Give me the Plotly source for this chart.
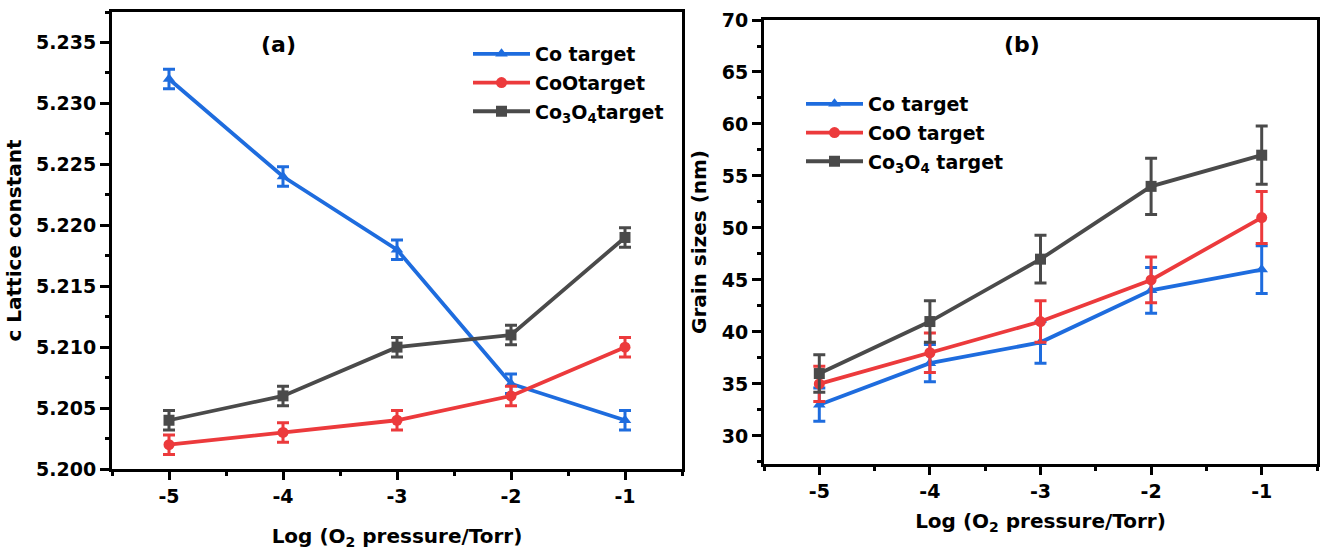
import plotly.graph_objects as go

x_log = [-5, -4, -3, -2, -1]

# Panel (a) lattice constant
a_co = [5.232, 5.224, 5.218, 5.207, 5.204]
a_coo = [5.202, 5.203, 5.204, 5.206, 5.210]
a_co3o4 = [5.204, 5.206, 5.210, 5.211, 5.219]
a_err = [0.0008, 0.0008, 0.0008, 0.0008, 0.0008]

# Panel (b) grain sizes
b_co = [33, 37, 39, 44, 46]
b_co_err = [1.6, 1.8, 2.0, 2.2, 2.3]
b_coo = [35, 38, 41, 45, 51]
b_coo_err = [1.7, 1.9, 2.0, 2.2, 2.5]
b_co3o4 = [36, 41, 47, 54, 57]
b_co3o4_err = [1.8, 2.0, 2.3, 2.7, 2.8]

names_a = ["Co target", "CoOtarget", "Co<sub>3</sub>O<sub>4</sub>target"]
names_b = ["Co target", "CoO target", "Co<sub>3</sub>O<sub>4</sub> target"]

BLUE = "rgb(30,108,222)"
RED = "rgb(236,58,60)"
GRAY = "rgb(74,74,74)"
FONT = "DejaVu Sans, Liberation Sans, sans-serif"

fig = go.Figure()

def add(x, y, err, name, color, symbol, xa, ya, legend, group):
    fig.add_trace(go.Scatter(
        x=x, y=y, name=name, mode="lines+markers",
        line=dict(color=color, width=3.8),
        marker=dict(symbol=symbol, size=11, color=color),
        error_y=dict(type="data", array=err, visible=True, color=color,
                     thickness=3, width=6),
        xaxis=xa, yaxis=ya, legend=legend, legendgroup=group,
    ))

add(x_log, a_co, a_err, names_a[0], BLUE, "triangle-up", "x", "y", "legend", "a1")
add(x_log, a_coo, a_err, names_a[1], RED, "circle", "x", "y", "legend", "a2")
add(x_log, a_co3o4, a_err, names_a[2], GRAY, "square", "x", "y", "legend", "a3")

add(x_log, b_co, b_co_err, names_b[0], BLUE, "triangle-up", "x2", "y2", "legend2", "b1")
add(x_log, b_coo, b_coo_err, names_b[1], RED, "circle", "x2", "y2", "legend2", "b2")
add(x_log, b_co3o4, b_co3o4_err, names_b[2], GRAY, "square", "x2", "y2", "legend2", "b3")

W, H = 1320, 550
tickfont = dict(family=FONT, size=19, color="black", weight="bold")
titlefont = dict(family=FONT, size=20, color="black", weight="bold")

def xaxis(domain, standoff):
    return dict(
        domain=domain, range=[-5.5, -0.5], tickvals=x_log, automargin=False,
        ticktext=[str(v) for v in x_log],
        showline=True, linecolor="black", linewidth=3, mirror=True,
        ticks="outside", ticklen=8, tickwidth=2.5, tickcolor="black",
        minor=dict(dtick=0.5, tick0=-5.5, ticks="outside", ticklen=4,
                   tickwidth=2.5, tickcolor="black"),
        showgrid=False, zeroline=False, tickfont=tickfont,
        title=dict(text="Log (O<sub>2</sub> pressure/Torr)", font=titlefont,
                   standoff=standoff),
    )

def yaxis(domain, rng, dtick, tickvals, fmt, title, standoff):
    return dict(
        domain=domain, range=rng, tickvals=tickvals, tickformat=fmt,
        automargin=False,
        showline=True, linecolor="black", linewidth=3, mirror=True,
        ticks="outside", ticklen=9, tickwidth=2.5, tickcolor="black",
        minor=dict(dtick=dtick, ticks="outside", ticklen=4,
                   tickwidth=2.5, tickcolor="black"),
        showgrid=False, zeroline=False, tickfont=tickfont,
        title=dict(text=title, font=titlefont, standoff=standoff),
    )

legfont = dict(family=FONT, size=19, color="black", weight="bold")

fig.update_layout(
    width=W, height=H,
    margin=dict(l=0, r=0, t=0, b=0, autoexpand=False),
    plot_bgcolor="white", paper_bgcolor="white",
    xaxis=dict(**xaxis([112 / W, 682 / W], 26), anchor="y"),
    yaxis=dict(**yaxis([1 - 469 / H, 1 - 12 / H], [5.200, 5.2375], 0.0025,
                       [5.200, 5.205, 5.210, 5.215, 5.220, 5.225, 5.230, 5.235],
                       ".3f", "c Lattice constant", 10), anchor="x"),
    xaxis2=dict(**xaxis([764 / W, 1317 / W], 14), anchor="y2"),
    yaxis2=dict(**yaxis([1 - 464 / H, 1 - 20 / H], [27.3, 70], 2.5,
                        [30, 35, 40, 45, 50, 55, 60, 65, 70],
                        "d", "Grain sizes (nm)", 10), anchor="x2"),
    legend=dict(x=468 / W, y=1 - 35 / H, xanchor="left", yanchor="top",
                bgcolor="rgba(0,0,0,0)", font=legfont, tracegroupgap=1,
                itemwidth=57),
    legend2=dict(x=801 / W, y=1 - 85 / H, xanchor="left", yanchor="top",
                 bgcolor="rgba(0,0,0,0)", font=legfont, tracegroupgap=1,
                 itemwidth=57),
    annotations=[
        dict(text="(a)", x=278 / W, y=1 - 45 / H, xref="paper", yref="paper",
             xanchor="center", yanchor="middle", showarrow=False,
             font=dict(family=FONT, size=22, color="black", weight="bold")),
        dict(text="(b)", x=1022 / W, y=1 - 45 / H, xref="paper", yref="paper",
             xanchor="center", yanchor="middle", showarrow=False,
             font=dict(family=FONT, size=22, color="black", weight="bold")),
    ],
)

fig.write_html("out.html")
